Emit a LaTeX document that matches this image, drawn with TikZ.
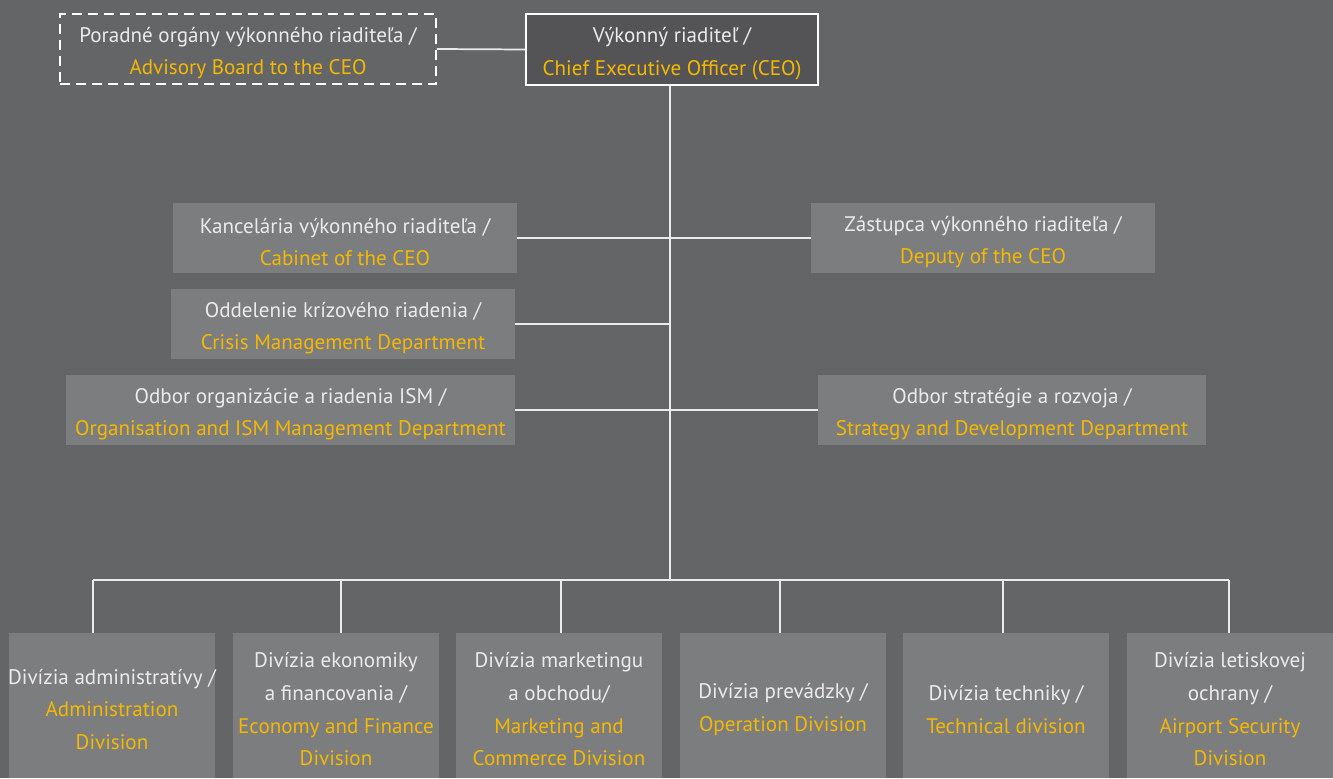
\documentclass[tikz,border=0pt]{standalone}
\usepackage{fontspec}
\setmainfont{PT Sans}
\definecolor{bgc}{HTML}{646567}
\definecolor{boxc}{HTML}{7C7D7F}
\definecolor{ceoc}{HTML}{545456}
\definecolor{wtxt}{HTML}{EBEBEB}
\definecolor{ytxt}{HTML}{F5B800}
\newcommand{\yl}[1]{\textcolor{ytxt}{#1}}
\begin{document}
\begin{tikzpicture}[x=0.75pt,y=-0.75pt,
  every node/.style={inner sep=0pt},
  txt/.style={align=center, text=wtxt, font=\fontsize{15.8}{24.5}\selectfont, yshift=-3pt},
  unit/.style={fill=boxc, minimum height=52.5pt},
  div/.style={fill=boxc, minimum width=154.5pt, minimum height=108.75pt},
  conn/.style={draw=wtxt, line width=1.3pt}]
\fill[bgc] (0,0) rectangle (1333,778);
\useasboundingbox (0,0) rectangle (1333,778);

% top
\node[draw=white, dashed, dash pattern=on 7.5pt off 4.5pt, line width=1.4pt, minimum width=282pt, minimum height=52.5pt] (adv) at (248,49) {};
\node[fill=ceoc, draw=white, line width=1.5pt, minimum width=219pt, minimum height=53pt] (ceo) at (672,49.5) {};

% staff units
\node[unit, minimum width=258pt] (cab) at (345,238) {};
\node[unit, minimum width=258pt] (dep) at (983,238) {};
\node[unit, minimum width=258pt] (cri) at (343,324) {};
\node[unit, minimum width=336.75pt] (org) at (290.5,410) {};
\node[unit, minimum width=291pt] (str) at (1012,410) {};

% divisions
\node[div] (d1) at (112,705.5) {};
\node[div] (d2) at (336,705.5) {};
\node[div] (d3) at (559,705.5) {};
\node[div] (d4) at (783,705.5) {};
\node[div] (d5) at (1006,705.5) {};
\node[div] (d6) at (1230,705.5) {};

% texts
\node[txt] (t-adv) at (adv.center) {Poradné orgány výkonného riaditeľa /\\ \yl{Advisory Board to the CEO}};
\node[txt] (t-ceo) at (ceo.center) {Výkonný riaditeľ /\\ \yl{Chief Executive Officer (CEO)}};
\node[txt] (t-cab) at (cab.center) {Kancelária výkonného riaditeľa /\\ \yl{Cabinet of the CEO}};
\node[txt] (t-dep) at (dep.center) {Zástupca výkonného riaditeľa /\\ \yl{Deputy of the CEO}};
\node[txt] (t-cri) at (cri.center) {Oddelenie krízového riadenia /\\ \yl{Crisis Management Department}};
\node[txt] (t-org) at (org.center) {Odbor organizácie a riadenia ISM /\\ \yl{Organisation and ISM Management Department}};
\node[txt] (t-str) at (str.center) {Odbor stratégie a rozvoja /\\ \yl{Strategy and Development Department}};
\node[txt] (t-d1) at (d1.center) {Divízia administratívy /\\ \yl{Administration}\\ \yl{Division}};
\node[txt] (t-d2) at (d2.center) {Divízia ekonomiky\\ a financovania /\\ \yl{Economy and Finance}\\ \yl{Division}};
\node[txt] (t-d3) at (d3.center) {Divízia marketingu\\ a obchodu/\\ \yl{Marketing and}\\ \yl{Commerce Division}};
\node[txt] (t-d4) at (d4.center) {Divízia prevádzky /\\ \yl{Operation Division}};
\node[txt] (t-d5) at (d5.center) {Divízia techniky /\\ \yl{Technical division}};
\node[txt] (t-d6) at (d6.center) {Divízia letiskovej\\ ochrany /\\ \yl{Airport Security}\\ \yl{Division}};

% connector points
\coordinate (tr) at (670,580);
\coordinate (b1) at (93,580);
\coordinate (b2) at (341,580);
\coordinate (b3) at (561,580);
\coordinate (b4) at (780,580);
\coordinate (b5) at (1003,580);
\coordinate (b6) at (1229,580);

\draw[conn] (adv.east) -- (ceo.west);
\draw[conn] (ceo.south -| tr) -- (tr);
\draw[conn] (cab.east) -- (dep.west);
\draw[conn] (cri.east) -- (cri.east -| tr);
\draw[conn] (org.east) -- (str.west);
\draw[conn] (b1) -- (b6);
\foreach \i in {1,...,6} {\draw[conn] (b\i) -- (b\i |- d\i.north);}
\end{tikzpicture}
\end{document}
